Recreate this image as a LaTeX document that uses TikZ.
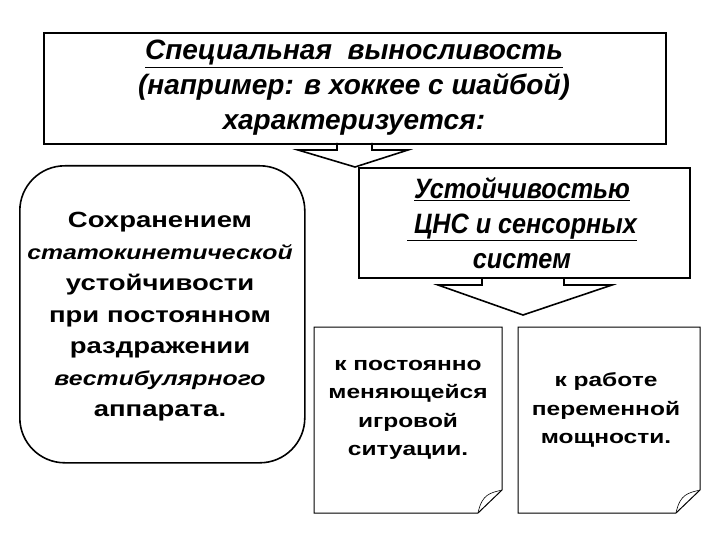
\documentclass[tikz,border=0pt]{standalone}
\usepackage{fontspec}
\setmainfont{Liberation Sans}
\newcommand\hsc[2]{\scalebox{#1}[1]{#2}}
\begin{document}
\begin{tikzpicture}[x=1pt,y=-1pt,line width=1.6pt,
  box/.style={draw,fill=white},
  ttl/.style={font=\bfseries\itshape\fontsize{28}{35}\selectfont,align=center},
  lft/.style={font=\bfseries\fontsize{22}{31.5}\selectfont,align=center},
  note/.style={font=\bfseries\fontsize{19}{28.5}\selectfont,align=center},
  arr/.style={line width=1.6pt,line join=miter}]
\useasboundingbox (0,0) rectangle (720,540);
% top box
\node[box,minimum width=622pt,minimum height=111pt,anchor=north west] (top) at (43,32) {};
\node[ttl] (toptext) at (354,88) {\hsc{1.0}{\underline{Специальная \ выносливость}}\\\hsc{1.0}{(например: в хоккее с шайбой)}\\\hsc{1.0}{характеризуется:}};
% arrow 1
\coordinate (a1) at (337,143); \coordinate (a2) at (372,143);
\draw[arr] (a1) -- (337,150) -- (298,150) -- (355,167) -- (408,150) -- (372,150) -- (a2);
% left rounded box
\node[box,rounded corners=45pt,minimum width=285pt,minimum height=297pt,anchor=north west] (left) at (19,165) {};
\node[lft] (lefttext) at (160,317) {\hsc{1.25}{Сохранением}\\\hsc{1.24}{\itshape\fontsize{20}{31.5}\selectfont статокинетической}\\\hsc{1.25}{устойчивости}\\\hsc{1.25}{при постоянном}\\\hsc{1.25}{раздражении}\\\hsc{1.24}{\itshape\fontsize{20}{31.5}\selectfont вестибулярного}\\\hsc{1.25}{аппарата.}};
% middle right box
\node[box,minimum width=331pt,minimum height=110pt,anchor=north west] (mid) at (358,167) {};
\node[ttl] (midtext) at (522,223) {\hsc{0.9}{\underline{Устойчивостью}}\\\hsc{0.9}{\underline{\ ЦНС и сенсорных}}\\\hsc{0.9}{систем}};
% arrow 2
\coordinate (b1) at (482,277); \coordinate (b2) at (564,277);
\draw[arr] (b1) -- (482,285) -- (438,285) -- (523,315) -- (612,285) -- (564,285) -- (b2);
% note boxes
\draw[line width=1pt,fill=white] (314,327) -- (502,327) -- (502,490) -- (478,513) -- (314,513) -- cycle;
\draw[line width=0.6pt] (502,490) .. controls (490,493) and (482,494) .. (478,513);
\node[note] (n1) at (408,410) {\hsc{1.29}{к постоянно}\\\hsc{1.29}{меняющейся}\\\hsc{1.29}{игровой}\\\hsc{1.29}{ситуации.}};
\draw[line width=1pt,fill=white] (518,327) -- (700,327) -- (700,490) -- (676,513) -- (518,513) -- cycle;
\draw[line width=0.6pt] (700,490) .. controls (688,493) and (680,494) .. (676,513);
\node[note] (n2) at (606,410) {\hsc{1.29}{к работе}\\\hsc{1.29}{переменной}\\\hsc{1.29}{мощности.}};
\end{tikzpicture}
\end{document}
